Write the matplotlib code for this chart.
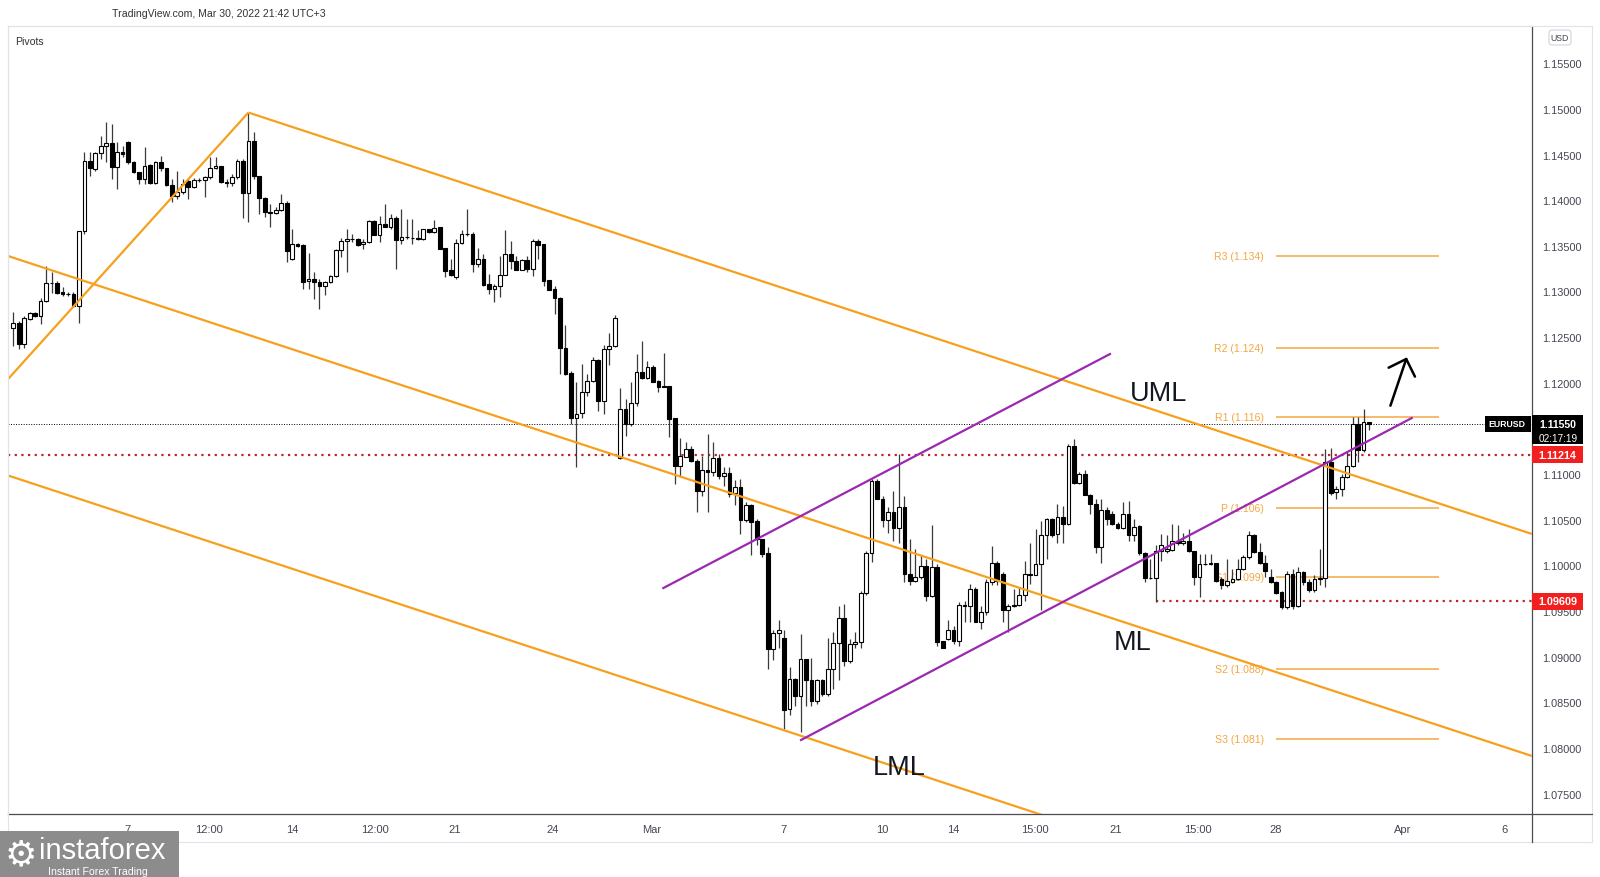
import matplotlib
matplotlib.use('Agg')
import matplotlib.pyplot as plt
from matplotlib.patches import Rectangle, FancyBboxPatch
from matplotlib.lines import Line2D
from matplotlib.transforms import IdentityTransform
import numpy as np

# ---- EURUSD 4h candles ----
open_ = [1.1260, 1.1265, 1.1242, 1.1270, 1.1276, 1.1273, 1.1290, 1.1309, 1.1309, 1.1299,
         1.1297, 1.1297, 1.1284, 1.1366, 1.1443, 1.1434, 1.1452, 1.1459, 1.1463, 1.1436,
         1.1453, 1.1464, 1.1442, 1.1431, 1.1423, 1.1439, 1.1419, 1.1442, 1.1435, 1.1417,
         1.1405, 1.1409, 1.1421, 1.1414, 1.1422, 1.1422, 1.1425, 1.1435, 1.1437, 1.1420,
         1.1419, 1.1425, 1.1443, 1.1408, 1.1465, 1.1426, 1.1402, 1.1387, 1.1386, 1.1389,
         1.1397, 1.1336, 1.1352, 1.1351, 1.1311, 1.1314, 1.1310, 1.1306, 1.1310, 1.1317,
         1.1345, 1.1355, 1.1358, 1.1358, 1.1352, 1.1354, 1.1377, 1.1362, 1.1374, 1.1371,
         1.1381, 1.1356, 1.1360, 1.1359, 1.1359, 1.1357, 1.1368, 1.1365, 1.1371, 1.1348,
         1.1323, 1.1316, 1.1353, 1.1363, 1.1363, 1.1330, 1.1336, 1.1308, 1.1303, 1.1306,
         1.1318, 1.1341, 1.1333, 1.1323, 1.1335, 1.1325, 1.1355, 1.1352, 1.1313, 1.1303,
         1.1293, 1.1238, 1.1211, 1.1161, 1.1167, 1.1190, 1.1202, 1.1225, 1.1180, 1.1237,
         1.1240, 1.1118, 1.1171, 1.1155, 1.1178, 1.1212, 1.1205, 1.1217, 1.1202, 1.1196,
         1.1196, 1.1161, 1.1109, 1.1119, 1.1128, 1.1114, 1.1082, 1.1105, 1.1102, 1.1118,
         1.1098, 1.1101, 1.1079, 1.1086, 1.1050, 1.1066, 1.1049, 1.1029, 1.1014, 1.0908,
         1.0926, 1.0920, 1.0843, 1.0876, 1.0857, 1.0898, 1.0874, 1.0852, 1.0874, 1.0859,
         1.0887, 1.0915, 1.0942, 1.0895, 1.0914, 1.0916, 1.0970, 1.1014, 1.1092, 1.1073,
         1.1050, 1.1058, 1.1041, 1.1064, 1.0991, 1.0983, 1.0987, 1.0999, 1.0967, 1.0998,
         1.0917, 1.0919, 1.0929, 1.0917, 1.0957, 1.0956, 1.0974, 1.0938, 1.0949, 1.0982,
         1.1003, 1.0991, 1.0951, 1.0955, 1.0957, 1.0968, 1.0991, 1.0990, 1.1001, 1.1033,
         1.1051, 1.1034, 1.1053, 1.1045, 1.1131, 1.1090, 1.1100, 1.1077, 1.1067, 1.1020,
         1.1061, 1.1056, 1.1045, 1.1041, 1.1056, 1.1033, 1.1043, 1.1014, 1.0986, 1.0986,
         1.1016, 1.1016, 1.1017, 1.1027, 1.1024, 1.1027, 1.1016, 1.0987, 1.1002, 1.1002,
         1.1003, 1.0985, 1.0978, 1.0982, 1.0985, 1.0996, 1.1009, 1.1033, 1.1015, 1.1003,
         1.0987, 1.0982, 1.0971, 1.0954, 1.0991, 1.0956, 1.0993, 1.0982, 1.0973, 1.0985,
         1.0986, 1.1113, 1.1080, 1.1084, 1.1097, 1.1109, 1.1155, 1.1126, 1.1157]
high = [1.1277, 1.1268, 1.1273, 1.1277, 1.1277, 1.1293, 1.1328, 1.1321, 1.1311, 1.1305,
        1.1299, 1.1299, 1.1366, 1.1453, 1.1453, 1.1453, 1.1470, 1.1486, 1.1483, 1.1464,
        1.1459, 1.1465, 1.1443, 1.1431, 1.1458, 1.1440, 1.1443, 1.1448, 1.1435, 1.1423,
        1.1432, 1.1423, 1.1423, 1.1424, 1.1424, 1.1426, 1.1447, 1.1447, 1.1438, 1.1423,
        1.1429, 1.1445, 1.1445, 1.1496, 1.1475, 1.1427, 1.1404, 1.1396, 1.1393, 1.1407,
        1.1399, 1.1369, 1.1353, 1.1352, 1.1342, 1.1321, 1.1314, 1.1311, 1.1318, 1.1347,
        1.1359, 1.1368, 1.1363, 1.1359, 1.1358, 1.1378, 1.1378, 1.1383, 1.1396, 1.1385,
        1.1383, 1.1390, 1.1379, 1.1379, 1.1367, 1.1369, 1.1369, 1.1378, 1.1371, 1.1348,
        1.1336, 1.1358, 1.1367, 1.1390, 1.1365, 1.1348, 1.1341, 1.1319, 1.1308, 1.1339,
        1.1367, 1.1355, 1.1339, 1.1336, 1.1339, 1.1358, 1.1358, 1.1352, 1.1313, 1.1306,
        1.1294, 1.1263, 1.1213, 1.1201, 1.1221, 1.1210, 1.1228, 1.1226, 1.1241, 1.1255,
        1.1274, 1.1194, 1.1182, 1.1201, 1.1232, 1.1246, 1.1224, 1.1219, 1.1203, 1.1233,
        1.1197, 1.1161, 1.1139, 1.1135, 1.1131, 1.1117, 1.1120, 1.1144, 1.1135, 1.1122,
        1.1108, 1.1108, 1.1093, 1.1095, 1.1069, 1.1067, 1.1051, 1.1029, 1.1020, 1.0929,
        1.0940, 1.0929, 1.0889, 1.0877, 1.0925, 1.0898, 1.0899, 1.0876, 1.0876, 1.0921,
        1.0927, 1.0956, 1.0958, 1.0919, 1.0927, 1.0972, 1.1016, 1.1095, 1.1095, 1.1076,
        1.1064, 1.1082, 1.1122, 1.1076, 1.1029, 1.1018, 1.1011, 1.1007, 1.1044, 1.1002,
        1.0917, 1.0940, 1.0934, 1.0960, 1.0961, 1.0980, 1.0976, 1.0956, 1.0985, 1.1021,
        1.1005, 1.0993, 1.0958, 1.0974, 1.0976, 1.1005, 1.1025, 1.1040, 1.1049, 1.1052,
        1.1052, 1.1067, 1.1065, 1.1133, 1.1138, 1.1102, 1.1104, 1.1078, 1.1073, 1.1073,
        1.1064, 1.1060, 1.1047, 1.1069, 1.1071, 1.1051, 1.1044, 1.1015, 1.1007, 1.1022,
        1.1034, 1.1033, 1.1045, 1.1044, 1.1035, 1.1040, 1.1016, 1.1013, 1.1013, 1.1013,
        1.1003, 1.0987, 1.1007, 1.0996, 1.1007, 1.1011, 1.1038, 1.1034, 1.1025, 1.1011,
        1.0996, 1.0983, 1.0972, 1.0994, 1.0996, 1.0998, 1.0994, 1.0985, 1.0989, 1.1018,
        1.1128, 1.1129, 1.1087, 1.1100, 1.1124, 1.1162, 1.1162, 1.1171, 1.1157]
low = [1.1240, 1.1237, 1.1238, 1.1269, 1.1272, 1.1264, 1.1289, 1.1298, 1.1297, 1.1295,
       1.1295, 1.1283, 1.1266, 1.1363, 1.1426, 1.1432, 1.1445, 1.1442, 1.1423, 1.1412,
       1.1447, 1.1440, 1.1430, 1.1418, 1.1418, 1.1418, 1.1418, 1.1432, 1.1416, 1.1398,
       1.1401, 1.1407, 1.1401, 1.1413, 1.1420, 1.1403, 1.1423, 1.1434, 1.1419, 1.1414,
       1.1416, 1.1423, 1.1380, 1.1376, 1.1423, 1.1385, 1.1382, 1.1371, 1.1385, 1.1388,
       1.1332, 1.1335, 1.1349, 1.1303, 1.1303, 1.1292, 1.1281, 1.1296, 1.1309, 1.1316,
       1.1338, 1.1321, 1.1354, 1.1350, 1.1347, 1.1353, 1.1362, 1.1354, 1.1371, 1.1368,
       1.1325, 1.1352, 1.1357, 1.1352, 1.1356, 1.1356, 1.1364, 1.1364, 1.1347, 1.1316,
       1.1317, 1.1314, 1.1352, 1.1361, 1.1321, 1.1327, 1.1306, 1.1297, 1.1288, 1.1294,
       1.1318, 1.1325, 1.1323, 1.1323, 1.1321, 1.1317, 1.1336, 1.1306, 1.1302, 1.1275,
       1.1210, 1.1208, 1.1155, 1.1108, 1.1161, 1.1186, 1.1201, 1.1169, 1.1166, 1.1219,
       1.1239, 1.1117, 1.1142, 1.1153, 1.1175, 1.1204, 1.1204, 1.1201, 1.1190, 1.1195,
       1.1141, 1.1089, 1.1098, 1.1119, 1.1113, 1.1058, 1.1076, 1.1058, 1.1098, 1.1095,
       1.1087, 1.1075, 1.1066, 1.1034, 1.1047, 1.1011, 1.1022, 1.1009, 1.0887, 1.0896,
       1.0910, 1.0821, 1.0836, 1.0846, 1.0818, 1.0846, 1.0846, 1.0848, 1.0857, 1.0857,
       1.0865, 1.0874, 1.0890, 1.0893, 1.0909, 1.0909, 1.0968, 1.1004, 1.1073, 1.1042,
       1.1036, 1.1027, 1.1025, 1.0982, 1.0978, 1.0982, 1.0985, 1.0961, 1.0965, 1.0912,
       1.0909, 1.0918, 1.0914, 1.0912, 1.0938, 1.0938, 1.0938, 1.0930, 1.0946, 1.0978,
       1.0978, 1.0938, 1.0927, 1.0954, 1.0955, 1.0961, 1.0980, 1.0989, 1.0951, 1.1007,
       1.1031, 1.1024, 1.1024, 1.1044, 1.1089, 1.1089, 1.1077, 1.1056, 1.1014, 1.1003,
       1.1044, 1.1044, 1.1040, 1.1040, 1.1027, 1.1027, 1.1011, 1.0982, 1.0985, 1.0960,
       1.1005, 1.1014, 1.1016, 1.1022, 1.1022, 1.1015, 1.0978, 1.0965, 1.1000, 1.1000,
       1.0982, 1.0974, 1.0976, 1.0981, 1.0984, 1.0995, 1.1007, 1.1014, 1.1002, 1.0987,
       1.0981, 1.0969, 1.0952, 1.0952, 1.0952, 1.0954, 1.0978, 1.0971, 1.0971, 1.0978,
       1.0976, 1.1077, 1.1073, 1.1076, 1.1096, 1.1108, 1.1113, 1.1124, 1.1148]
close = [1.1265, 1.1242, 1.1271, 1.1276, 1.1273, 1.1290, 1.1309, 1.1309, 1.1298, 1.1297,
         1.1297, 1.1284, 1.1366, 1.1443, 1.1435, 1.1452, 1.1459, 1.1463, 1.1436, 1.1453,
         1.1451, 1.1442, 1.1431, 1.1423, 1.1438, 1.1419, 1.1442, 1.1435, 1.1417, 1.1405,
         1.1409, 1.1418, 1.1414, 1.1422, 1.1422, 1.1425, 1.1435, 1.1437, 1.1420, 1.1419,
         1.1425, 1.1443, 1.1408, 1.1465, 1.1426, 1.1402, 1.1387, 1.1386, 1.1389, 1.1397,
         1.1344, 1.1352, 1.1350, 1.1310, 1.1314, 1.1310, 1.1306, 1.1310, 1.1317, 1.1345,
         1.1355, 1.1358, 1.1358, 1.1351, 1.1354, 1.1377, 1.1362, 1.1374, 1.1371, 1.1381,
         1.1356, 1.1360, 1.1360, 1.1359, 1.1357, 1.1368, 1.1365, 1.1370, 1.1347, 1.1322,
         1.1318, 1.1353, 1.1363, 1.1363, 1.1330, 1.1336, 1.1307, 1.1303, 1.1306, 1.1318,
         1.1341, 1.1333, 1.1323, 1.1335, 1.1325, 1.1355, 1.1351, 1.1312, 1.1302, 1.1293,
         1.1238, 1.1210, 1.1161, 1.1166, 1.1190, 1.1202, 1.1225, 1.1180, 1.1237, 1.1240,
         1.1271, 1.1171, 1.1155, 1.1178, 1.1212, 1.1205, 1.1217, 1.1201, 1.1195, 1.1195,
         1.1160, 1.1109, 1.1120, 1.1128, 1.1114, 1.1082, 1.1104, 1.1102, 1.1118, 1.1098,
         1.1101, 1.1078, 1.1086, 1.1050, 1.1066, 1.1048, 1.1029, 1.1013, 1.0908, 1.0926,
         1.0929, 1.0842, 1.0876, 1.0857, 1.0898, 1.0874, 1.0852, 1.0874, 1.0859, 1.0887,
         1.0915, 1.0942, 1.0895, 1.0914, 1.0916, 1.0970, 1.1014, 1.1092, 1.1073, 1.1050,
         1.1058, 1.1041, 1.1064, 1.0991, 1.0983, 1.0987, 1.0999, 1.0967, 1.0998, 1.0916,
         1.0910, 1.0929, 1.0917, 1.0957, 1.0956, 1.0974, 1.0938, 1.0949, 1.0982, 1.1003,
         1.0983, 1.0951, 1.0955, 1.0957, 1.0968, 1.0991, 1.0990, 1.1001, 1.1033, 1.1051,
         1.1033, 1.1053, 1.1045, 1.1131, 1.1090, 1.1100, 1.1077, 1.1067, 1.1020, 1.1061,
         1.1051, 1.1045, 1.1041, 1.1056, 1.1033, 1.1042, 1.1014, 1.0986, 1.0986, 1.1016,
         1.1022, 1.1018, 1.1027, 1.1024, 1.1027, 1.1016, 1.0987, 1.1002, 1.1002, 1.1003,
         1.0983, 1.0978, 1.0983, 1.0985, 1.0996, 1.1009, 1.1033, 1.1015, 1.1003, 1.0994,
         1.0982, 1.0970, 1.0954, 1.0991, 1.0956, 1.0993, 1.0982, 1.0973, 1.0985, 1.0986,
         1.1113, 1.1079, 1.1084, 1.1097, 1.1109, 1.1155, 1.1126, 1.1157, 1.1155]

# time axis (positions in bar numbers)
time_ticks = [20.9, 35.8, 51.0, 66.1, 80.8, 98.6, 116.8, 140.8, 158.9, 171.9,
              186.9, 201.7, 216.7, 231.0, 254.1, 272.7]
time_labels = ['7', '12:00', '14', '12:00', '21', '24', 'Mar', '7', '10', '14',
               '15:00', '21', '15:00', '28', 'Apr', '6']
# 1.11500 sits under the last-price tag, so it is not printed
price_ticks = [1.075, 1.080, 1.085, 1.090, 1.095, 1.100, 1.105, 1.110,
               1.120, 1.125, 1.130, 1.135, 1.140, 1.145, 1.150, 1.155]

# pivot points
pivot_names = ['R3', 'R2', 'R1', 'P', 'S1', 'S2', 'S3']
pivot_levels = [1.1339, 1.1238, 1.1162, 1.1063, 1.0987, 1.0886, 1.0810]
pivot_shown = ['1.134', '1.124', '1.116', '1.106', '1.099', '1.088', '1.081']
pivot_from, pivot_to = 231.0, 260.8

last_price = 1.11550
countdown = '02:17:19'
level_high = 1.11214
level_low = 1.09609
level_low_from = 209

# drawn lines: (bar, price) end points
handle_line = [(-0.97, 1.1204), (43, 1.1496)]
uml_line = [(43, 1.1496), (277.8, 1.10344)]
ml_line = [(-0.97, 1.13389), (277.8, 1.07912)]
lml_line = [(-0.97, 1.10985), (200.0, 1.07034)]
purple_top = [(118.9, 1.09752), (200.6, 1.12315)]
purple_bottom = [(144.1, 1.08088), (255.8, 1.11614)]
arrow_tail = (251.9, 1.11749)
arrow_tip = (254.9, 1.12279)
labels = [('UML', 209.4, 1.11883), ('ML', 204.7, 1.09165), ('LML', 162.0, 1.07792)]

W, H = 1600, 878
ORANGE = '#f6a01e'
PIVOT = '#f5a742'
PURPLE = '#9c27b0'
RED_DOT = '#b8262a'
RED_TAG = '#f21f1f'
AXIS = '#4a4c55'
FAINT = '#e0e3eb'
TXT = '#434651'
plt.rcParams['font.family'] = ['Liberation Sans', 'DejaVu Sans']

fig = plt.figure(figsize=(W / 100, H / 100), dpi=100)
fig.patch.set_facecolor('white')
ax = fig.add_axes([8 / W, 63 / H, 1524 / W, 788 / H])
ax.set_xlim(-0.97, 277.8)
ax.set_ylim(1.07277, 1.15908)

# candles
idx = np.arange(len(close))
o = np.array(open_)
c = np.array(close)
up = c >= o
ax.vlines(idx, low, high, color='#3a3a3a', lw=0.9, zorder=2)
ax.bar(idx[up], (c - o)[up], bottom=o[up], width=0.68, color='white',
       edgecolor='black', lw=0.8, zorder=3)
ax.bar(idx[~up], (o - c)[~up], bottom=c[~up], width=0.68, color='black',
       edgecolor='black', lw=0.8, zorder=3)

# pivots
for name, lvl, shown in zip(pivot_names, pivot_levels, pivot_shown):
    ax.hlines(lvl, pivot_from, pivot_to, color=PIVOT, lw=1.1, zorder=1)
    ax.text(pivot_from - 2.2, lvl, f'{name} ({shown})', ha='right', va='center',
            color=PIVOT, fontsize=7.6, zorder=1)

# horizontal levels
ax.axhline(last_price, color='black', lw=0.7, ls=(0, (1, 1.6)), zorder=1.5)
ax.axhline(level_high, color=RED_DOT, lw=1.6, ls=(0, (1, 2)), zorder=1.6)
ax.hlines(level_low, level_low_from, 277.8, color=RED_DOT, lw=1.6,
          ls=(0, (1, 2)), zorder=1.6)

# pitchfork and channel
for seg in (handle_line, uml_line, ml_line, lml_line):
    ax.plot([seg[0][0], seg[1][0]], [seg[0][1], seg[1][1]], color=ORANGE,
            lw=1.6, zorder=4, solid_capstyle='butt')
for seg in (purple_top, purple_bottom):
    ax.plot([seg[0][0], seg[1][0]], [seg[0][1], seg[1][1]], color=PURPLE,
            lw=1.6, zorder=4)

ax.annotate('', xy=arrow_tip, xytext=arrow_tail,
            arrowprops=dict(arrowstyle='->,head_length=0.5,head_width=0.5',
                            lw=1.8, color='black', shrinkA=0, shrinkB=0,
                            mutation_scale=20), zorder=5)

for txt, x, y in labels:
    ax.text(x, y, txt, ha='center', va='center', fontsize=19.5, color='#131722',
            zorder=5)

# axes styling
ax.yaxis.tick_right()
ax.set_yticks(price_ticks)
ax.set_yticklabels([f'{p:.5f}' for p in price_ticks])
ax.set_xticks(time_ticks)
ax.set_xticklabels(time_labels)
ax.tick_params(axis='y', length=0, pad=7, labelsize=7.8, labelcolor=TXT)
ax.tick_params(axis='x', length=0, pad=7, labelsize=8, labelcolor=TXT)
for side in ('left', 'top'):
    ax.spines[side].set_color(FAINT)
    ax.spines[side].set_linewidth(0.8)
for side in ('right', 'bottom'):
    ax.spines[side].set_color(AXIS)
    ax.spines[side].set_linewidth(0.9)

# outer frame of the chart widget (pixel coordinates, origin bottom-left)
px = IdentityTransform()
fig.add_artist(Line2D([8, 1592], [H - 27, H - 27], color=FAINT, lw=0.8, transform=px))
fig.add_artist(Line2D([1592, 1592], [H - 843, H - 27], color=FAINT, lw=0.8, transform=px))
fig.add_artist(Line2D([8, 1592], [H - 843, H - 843], color=FAINT, lw=0.8, transform=px))
fig.add_artist(Line2D([8, 8], [H - 843, H - 27], color=FAINT, lw=0.8, transform=px))
fig.add_artist(Line2D([1532, 1532], [H - 843, H - 815], color=AXIS, lw=0.9, transform=px))
fig.add_artist(Line2D([1532, 1592], [H - 815, H - 815], color=AXIS, lw=0.9, transform=px))


def ypix(price):
    return ax.transData.transform((0, price))[1]


def tag(x0, x1, y_top, y_bot, face):
    fig.add_artist(Rectangle((x0, y_bot), x1 - x0, y_top - y_bot, facecolor=face,
                             edgecolor='none', transform=px, zorder=10))


# price tags on the right
yp = ypix(last_price)
tag(1485, 1531, yp + 8, yp - 8, 'black')
fig.text(1507, yp, 'EURUSD', color='white', fontsize=6.3, weight='bold',
         ha='center', va='center', transform=px, zorder=11)
tag(1532, 1583, yp + 9, yp - 20, 'black')
fig.text(1558, yp, f'{last_price:.5f}', color='white', fontsize=7.6, weight='bold',
         ha='center', va='center', transform=px, zorder=11)
fig.text(1558, yp - 14, countdown, color='white', fontsize=7.2,
         ha='center', va='center', transform=px, zorder=11)
for lvl in (level_high, level_low):
    yl = ypix(lvl)
    tag(1532, 1583, yl + 8.5, yl - 8.5, RED_TAG)
    fig.text(1557.5, yl, f'{lvl:.5f}', color='white', fontsize=7.8, weight='bold',
             ha='center', va='center', transform=px, zorder=11)

fig.add_artist(FancyBboxPatch((1549, H - 46), 22, 15, boxstyle='round,pad=0,rounding_size=3',
                              facecolor='white', edgecolor='#d1d4dc', lw=0.8,
                              transform=px, zorder=10))
fig.text(1560, H - 38.5, 'USD', color=TXT, fontsize=6.3,
         ha='center', va='center', transform=px, zorder=11)

# header texts
fig.text(112, H - 14.5, 'TradingView.com, Mar 30, 2022 21:42 UTC+3', color='#333333',
         fontsize=7.6, ha='left', va='center', transform=px)
fig.text(15, H - 42, 'Pivots', color='#333333', fontsize=7.6, ha='left', va='center',
         transform=px)

# watermark logo
fig.add_artist(Rectangle((0, 0), 178.6, 46, facecolor='#8c8c8c', edgecolor='none',
                         transform=px, zorder=12))
fig.text(21, 23, '\u2699', color='white', fontsize=26, family=['DejaVu Sans'],
         ha='center', va='center', transform=px, zorder=13)
fig.text(39, 19, 'instaforex', color='white', fontsize=21,
         ha='left', va='baseline', transform=px, zorder=13)
fig.text(48, 2.5, 'Instant Forex Trading', color='white', fontsize=7.6,
         ha='left', va='baseline', transform=px, zorder=13)

fig.savefig('out.png', dpi=100, facecolor='white')
